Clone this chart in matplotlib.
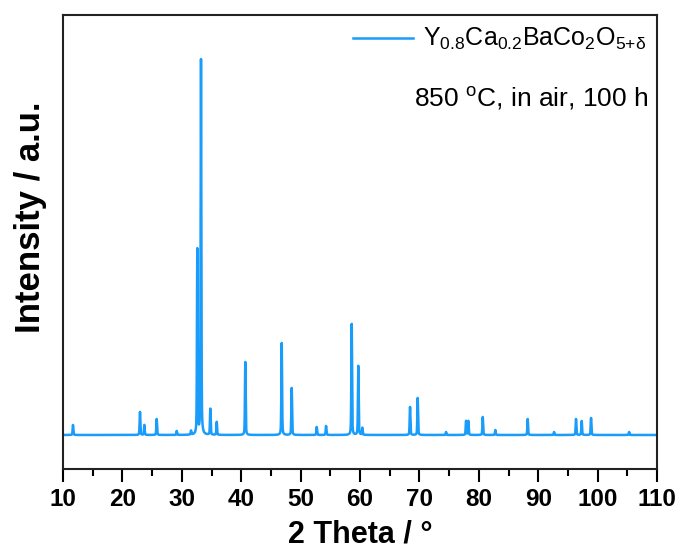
import numpy as np
import matplotlib
matplotlib.use("Agg")
import matplotlib.pyplot as plt

plt.rcParams['font.family'] = ['Liberation Sans', 'DejaVu Sans']
plt.rcParams['mathtext.fontset'] = 'custom'
plt.rcParams['mathtext.rm'] = 'Liberation Sans'
plt.rcParams['mathtext.it'] = 'Liberation Sans:italic'
plt.rcParams['mathtext.bf'] = 'Liberation Sans:bold'

# Peak list (2theta in degrees, height in arbitrary units)
peak_pos = [11.68, 22.96, 23.69, 25.77, 29.14, 31.55, 32.61, 33.23, 34.80, 35.88,
            40.69, 46.82, 48.50, 52.71, 54.28, 58.60, 59.71, 60.39, 68.42, 69.71,
            74.48, 77.85, 78.23, 80.66, 82.78, 88.23, 92.66, 96.36, 97.32, 98.89,
            105.3]
peak_height = [10, 23, 10, 16, 4, 4, 185, 375, 26, 13,
               73, 92, 47, 8, 9, 111, 69, 7, 28, 37,
               3, 14, 14, 18, 5, 16, 3, 16, 14, 17,
               3]
peak_fwhm = 0.14

xticks = [10, 20, 30, 40, 50, 60, 70, 80, 90, 100, 110]
series_label = r'$\mathregular{Y_{0.8}Ca_{0.2}BaCo_{2}O_{5{+}\delta}}$'
note_text = r'850 $\mathregular{^{o}}$C, in air, 100 h'

two_theta = np.arange(10.0, 110.0001, 0.01)
intensity = np.zeros_like(two_theta)
for p, h in zip(peak_pos, peak_height):
    g = np.exp(-4 * np.log(2) * ((two_theta - p) / peak_fwhm) ** 2)
    l = 1.0 / (1.0 + 4 * ((two_theta - p) / peak_fwhm) ** 2)
    intensity += h * (0.6 * g + 0.4 * l)

fig = plt.figure(figsize=(6.81, 5.52), dpi=100)
ax = fig.add_axes([0.0925, 0.1504, 0.8723, 0.8224])
ax.plot(two_theta, intensity, color='#1A9CFA', lw=1.8, label=series_label)

ax.set_xlim(10, 110)
ax.set_ylim(-34, 420)
ax.set_xticks(xticks)
ax.set_xticks(np.arange(15, 110, 10), minor=True)
ax.set_yticks([])
ax.tick_params(axis='x', which='major', direction='out', length=9, width=1.5,
               labelsize=17.5, pad=5)
ax.tick_params(axis='x', which='minor', direction='out', length=5, width=1.5)
for lab in ax.get_xticklabels():
    lab.set_fontweight('bold')
for s in ax.spines.values():
    s.set_linewidth(1.5)
    s.set_color('#222222')

ax.set_xlabel('2 Theta / °', fontsize=22, fontweight='bold', labelpad=6)
ax.set_ylabel('Intensity / a.u.', fontsize=25, fontweight='bold')
ax.yaxis.set_label_coords(-0.027, 0.555)

leg = ax.legend(loc='upper right', frameon=False, fontsize=18, handlelength=2.4,
                handletextpad=0.4, borderaxespad=0.05)
ax.text(0.985, 0.80, note_text, transform=ax.transAxes, ha='right', va='baseline',
        fontsize=19)

fig.savefig('out.png', dpi=100)
